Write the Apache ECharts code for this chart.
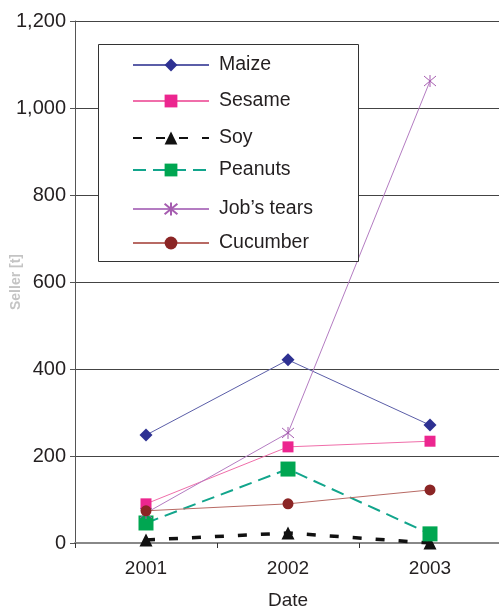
<!DOCTYPE html>
<html><head><meta charset="utf-8">
<script src="https://cdn.jsdelivr.net/npm/echarts@6/dist/echarts.min.js"></script>
<style>html,body{margin:0;padding:0;background:#fff}#c{width:499px;height:609px}</style>
</head><body><div id="c"></div>
<script>
var categories = ['2001', '2002', '2003'];
var maize = [248, 421, 271];
var sesame = [90, 221, 234];
var soy = [7, 23, 0];
var peanuts = [46, 170, 21];
var jobsTears = [69, 253, 1062];
var cucumber = [74, 90, 122];
var seriesNames = ['Maize', 'Sesame', 'Soy', 'Peanuts', 'Job\u2019s tears', 'Cucumber'];
var legendRowCenters = [63, 99, 136, 168, 207, 241];

var chart = echarts.init(document.getElementById('c'), null, {renderer: 'canvas'});
var font = 'Liberation Sans, Arial, sans-serif';
var asterisk = 'path://M0,0L10,10M10,0L0,10M5,-1L5,11';

var legends = seriesNames.map(function (n, i) {
  return {
    data: [n], left: 132, top: legendRowCenters[i] - 8, padding: 0,
    itemWidth: 76, itemHeight: 16, itemGap: 10,
    textStyle: {fontSize: 19.5, color: '#231f20', fontFamily: font, padding: [0, 0, 0, 5]},
    z: 10, selectedMode: false
  };
});

chart.setOption({
  animation: false,
  backgroundColor: '#fff',
  grid: {left: 75, right: -2, top: 21, bottom: 66, containLabel: false, outerBoundsMode: 'none'},
  graphic: [{
    type: 'rect', left: 98, top: 44, z: 5,
    shape: {width: 260, height: 217},
    style: {fill: '#fff', stroke: '#333', lineWidth: 1}
  }],
  legend: legends,
  xAxis: {
    type: 'category', data: categories, boundaryGap: true,
    axisLine: {lineStyle: {color: '#888', width: 2}},
    axisTick: {show: true, length: 5, lineStyle: {color: '#333'}},
    axisLabel: {fontSize: 19, color: '#231f20', fontFamily: font, margin: 16},
    name: 'Date', nameLocation: 'middle', nameGap: 48, nameMoveOverlap: false,
    nameTextStyle: {fontSize: 19, color: '#231f20', fontFamily: font}
  },
  yAxis: {
    type: 'value', min: 0, max: 1200, interval: 200,
    axisLine: {show: true, lineStyle: {color: '#555', width: 1}},
    axisTick: {show: true, length: 5, lineStyle: {color: '#555'}},
    axisLabel: {fontSize: 20, color: '#231f20', fontFamily: font, margin: 9},
    splitLine: {lineStyle: {color: '#444', width: 1}},
    name: 'Seller [t]', nameLocation: 'middle', nameGap: 52, nameRotate: 90, nameMoveOverlap: false,
    nameTextStyle: {fontSize: 14, color: '#c4c4c4', fontWeight: 'bold', fontFamily: font}
  },
  series: [
    {name: seriesNames[0], type: 'line', data: maize, symbol: 'diamond', symbolSize: 13,
     itemStyle: {color: '#2e3192'}, lineStyle: {color: '#5b5ea8', width: 1}},
    {name: seriesNames[1], type: 'line', data: sesame, symbol: 'rect', symbolSize: 11,
     itemStyle: {color: '#ec268f'}, lineStyle: {color: '#f06eaa', width: 1}},
    {name: seriesNames[2], type: 'line', data: soy, symbol: 'triangle', symbolSize: 13,
     itemStyle: {color: '#111'}, lineStyle: {color: '#111', width: 3.5, type: [9, 14]}},
    {name: seriesNames[3], type: 'line', data: peanuts, symbol: 'rect', symbolSize: 15,
     itemStyle: {color: '#00a651'}, lineStyle: {color: '#12a58c', width: 2, type: [13, 7]}},
    {name: seriesNames[4], type: 'line', data: jobsTears, symbol: asterisk, symbolSize: 12,
     itemStyle: {color: '#a65db0', borderColor: '#a65db0', borderWidth: 1},
     lineStyle: {color: '#b47cc2', width: 1}},
    {name: seriesNames[5], type: 'line', data: cucumber, symbol: 'circle', symbolSize: 11,
     itemStyle: {color: '#8b2525'}, lineStyle: {color: '#b86a64', width: 1}}
  ]
});
</script></body></html>
